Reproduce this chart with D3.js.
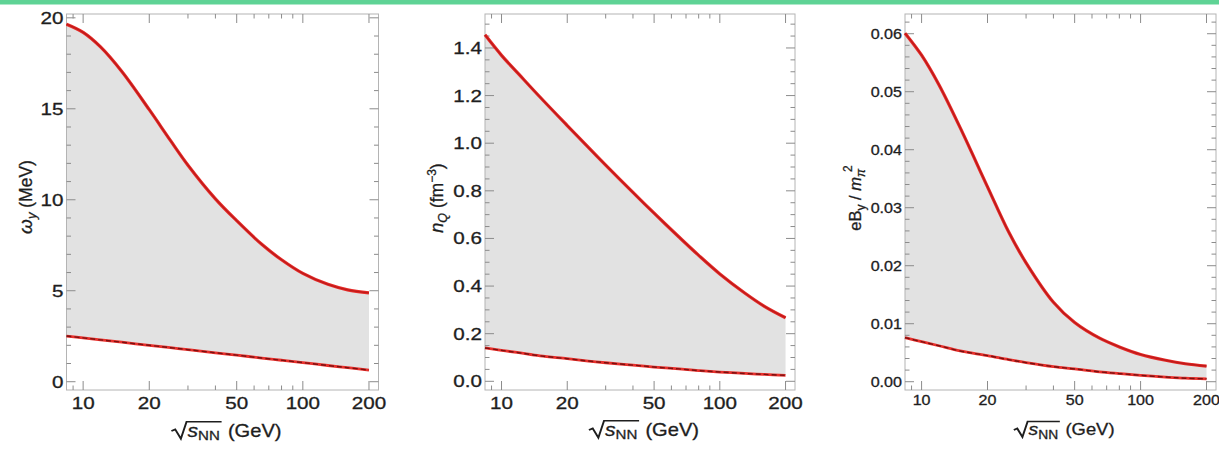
<!DOCTYPE html>
<html>
<head>
<meta charset="utf-8">
<script src="https://cdn.jsdelivr.net/npm/d3@7"></script>
<style>
  html, body { margin: 0; padding: 0; background: #fff; }
  svg { display: block; }
</style>
</head>
<body>
<svg id="chart" width="1219" height="449"></svg>
<script>
// Collision energy sqrt(s_NN) in GeV
const energies = [8.4, 10, 12, 15, 20, 25, 30, 40, 50, 65, 80, 100, 130, 160, 200];

// Vorticity omega_y (MeV): upper (solid) and lower (dashed) bounds
const omegaUpper = [19.65, 19.2, 18.4, 17.05, 14.95, 13.25, 11.9, 10.05, 8.85, 7.55, 6.7, 5.95, 5.35, 5.05, 4.88];
const omegaLower = [2.51, 2.41, 2.30, 2.17, 2.00, 1.87, 1.76, 1.59, 1.46, 1.30, 1.18, 1.05, 0.89, 0.77, 0.64];

// Charge density n_Q (fm^-3)
const nQUpper = [1.455, 1.369, 1.29, 1.194, 1.074, 0.982, 0.908, 0.793, 0.706, 0.606, 0.529, 0.451, 0.371, 0.315, 0.267];
const nQLower = [0.14, 0.13, 0.12, 0.107, 0.095, 0.085, 0.078, 0.068, 0.06, 0.052, 0.045, 0.039, 0.033, 0.029, 0.025];

// Magnetic field eB_y / m_pi^2
const eBUpper = [0.0601, 0.0563, 0.0512, 0.0438, 0.0336, 0.0258, 0.0205, 0.0137, 0.0102, 0.0075, 0.0060, 0.0047, 0.0037, 0.0031, 0.0027];
const eBLower = [0.0076, 0.0069, 0.0062, 0.0053, 0.0045, 0.0038, 0.0033, 0.0026, 0.0022, 0.0017, 0.0014, 0.0011, 0.0008, 0.0006, 0.0005];

// Axis ticks
const xMajorTicks = [10, 20, 50, 100, 200];
const xMinorTicks = [9, 30, 40, 60, 70, 80, 90];
const omegaTicks = [0, 5, 10, 15, 20];
const nQTicks = [0, 0.2, 0.4, 0.6, 0.8, 1.0, 1.2, 1.4];
const eBTicks = [0, 0.01, 0.02, 0.03, 0.04, 0.05, 0.06];

const svg = d3.select("#chart");
const FONT = "'Liberation Sans', Arial, Helvetica, sans-serif";
const TEXT = "#1e1e1e";

svg.append("rect").attr("x", 0).attr("y", 0).attr("width", 1219).attr("height", 4.5).attr("fill", "#5fd395");

const TOP = 14, BOTTOM = 390;
const xDomain = [8.4, 221];

const panels = [
  { left: 66.5, right: 378.5, yDomain: [-0.456, 20.21], upper: omegaUpper, lower: omegaLower,
    ticks: omegaTicks, minorStep: 1, fmt: d3.format("d"), labelSize: 16.5, sx: 1.25, xLabelBase: 409,
    titleBase: 436.5, titleSize: 17.5, yTitle: drawOmegaTitle },
  { left: 485, right: 795, yDomain: [-0.0365, 1.5426], upper: nQUpper, lower: nQLower,
    ticks: nQTicks, minorStep: 0.05, fmt: d3.format(".1f"), labelSize: 16.5, sx: 1.25, xLabelBase: 409,
    titleBase: 435.5, titleSize: 17.5, yTitle: drawNQTitle },
  { left: 905, right: 1216, yDomain: [-0.00143, 0.0634], upper: eBUpper, lower: eBLower,
    ticks: eBTicks, minorStep: 0.002, fmt: d3.format(".2f"), labelSize: 14, sx: 1.15, xLabelBase: 405,
    titleBase: 435, titleSize: 16, yTitle: drawEBTitle }
];

function hText(parent, x, y, size, sx, anchor, str) {
  return parent.append("text")
    .attr("transform", `translate(${x},${y}) scale(${sx},1)`)
    .attr("text-anchor", anchor)
    .attr("font-family", FONT)
    .attr("font-size", size)
    .attr("fill", TEXT)
    .attr("stroke", TEXT).attr("stroke-width", 0.3)
    .text(str);
}

panels.forEach(p => {
  const g = svg.append("g");
  const x = d3.scaleLog().domain(xDomain).range([p.left, p.right]);
  const y = d3.scaleLinear().domain(p.yDomain).range([BOTTOM, TOP]);
  const pts = energies.map((e, i) => ({ e, hi: p.upper[i], lo: p.lower[i] }));
  const curve = d3.curveCatmullRom.alpha(0.5);

  // shaded band between the bounds
  g.append("path")
    .datum(pts)
    .attr("fill", "#e2e2e2")
    .attr("d", d3.area().curve(curve)
      .x(d => x(d.e)).y0(d => y(d.lo)).y1(d => y(d.hi)));

  const lineHi = d3.line().curve(curve).x(d => x(d.e)).y(d => y(d.hi));
  const lineLo = d3.line().curve(curve).x(d => x(d.e)).y(d => y(d.lo));

  // frame
  g.append("rect")
    .attr("x", p.left).attr("y", TOP)
    .attr("width", p.right - p.left).attr("height", BOTTOM - TOP)
    .attr("fill", "none").attr("stroke", "#b4b4b4").attr("stroke-width", 1);

  // ticks on all four sides, pointing inwards
  const tickG = g.append("g").attr("stroke", "#8c8c8c").attr("stroke-width", 1);
  const MAJ = 9, MIN = 4.5;
  xMajorTicks.concat(xMinorTicks).forEach(v => {
    const len = xMajorTicks.includes(v) ? MAJ : MIN;
    const px = x(v);
    tickG.append("line").attr("x1", px).attr("x2", px).attr("y1", BOTTOM).attr("y2", BOTTOM - len);
    tickG.append("line").attr("x1", px).attr("x2", px).attr("y1", TOP).attr("y2", TOP + len);
  });
  const [y0, y1] = p.yDomain;
  const minors = d3.range(Math.ceil(y0 / p.minorStep) * p.minorStep, y1, p.minorStep);
  minors.forEach(v => {
    const isMajor = p.ticks.some(t => Math.abs(t - v) < p.minorStep / 10);
    const len = isMajor ? MAJ : MIN;
    const py = y(v);
    tickG.append("line").attr("x1", p.left).attr("x2", p.left + len).attr("y1", py).attr("y2", py);
    tickG.append("line").attr("x1", p.right).attr("x2", p.right - len).attr("y1", py).attr("y2", py);
  });

  // curves: solid upper bound, dashed lower bound
  g.append("path").datum(pts).attr("fill", "none").attr("stroke", "#e62b28")
    .attr("stroke-width", 3.2).attr("d", lineHi);
  g.append("path").datum(pts).attr("fill", "none").attr("stroke", "#bf1a1a")
    .attr("stroke-width", 1.4).attr("d", lineHi);
  g.append("path").datum(pts).attr("fill", "none").attr("stroke", "#e8302c")
    .attr("stroke-width", 2.8).attr("d", lineLo);
  g.append("path").datum(pts).attr("fill", "none").attr("stroke", "#7a1010")
    .attr("stroke-width", 1.4).attr("stroke-dasharray", "5,3").attr("d", lineLo);

  // tick labels
  p.ticks.forEach(v => {
    hText(g, p.left - 3, y(v) + p.labelSize * 0.36, p.labelSize, p.sx, "end", p.fmt(v));
  });
  xMajorTicks.forEach(v => {
    hText(g, x(v), p.xLabelBase, p.labelSize, p.sx, "middle", String(v));
  });

  drawEnergyTitle(g, (p.left + p.right) / 2, p.titleBase, p.titleSize);
  p.yTitle(g);
});

// sqrt(s_NN) (GeV) axis title
function drawEnergyTitle(parent, cx, base, size) {
  const grp = parent.append("g");
  const t = grp.append("text").attr("font-family", FONT).attr("font-size", size).attr("fill", TEXT)
    .attr("stroke", TEXT).attr("stroke-width", 0.3).attr("y", 0);
  t.append("tspan").attr("font-style", "italic").attr("font-size", size * 1.05).text("s");
  t.append("tspan").attr("font-size", size * 0.75).attr("dy", size * 0.22).text("NN");
  t.append("tspan").attr("dy", -size * 0.22).attr("dx", size * 0.4).text("(GeV)");
  const total = t.node().getComputedTextLength();
  const rootLen = t.node().getSubStringLength(0, 3);
  const rw = size * 0.8;
  const start = -(rw + total) / 2;
  t.attr("x", start + rw);
  const s = size / 16;
  grp.append("path")
    .attr("d", `M${start},${-5 * s} L${start + 3 * s},${-6.5 * s} L${start + 7.5 * s},${2 * s} L${start + 12 * s},${-13.5 * s} H${start + rw + rootLen + 1.5}`)
    .attr("fill", "none").attr("stroke", TEXT).attr("stroke-width", 1.7);
  grp.attr("transform", `translate(${cx},${base}) scale(1.15,1)`);
}

function yTitleText(parent, x, y, size) {
  return parent.append("text")
    .attr("transform", `translate(${x},${y}) rotate(-90)`)
    .attr("text-anchor", "middle")
    .attr("font-family", FONT)
    .attr("font-size", size)
    .attr("fill", TEXT)
    .attr("stroke", TEXT).attr("stroke-width", 0.3);
}

function drawOmegaTitle(parent) {
  const t = yTitleText(parent, 32, 197, 17.5);
  t.append("tspan").attr("font-style", "italic").attr("font-size", 19).text("ω");
  t.append("tspan").attr("font-style", "italic").attr("font-size", 13).attr("dy", 4).text("y");
  t.append("tspan").attr("dy", -4).text(" (MeV)");
}

function drawNQTitle(parent) {
  const t = yTitleText(parent, 443, 198, 17.5);
  t.append("tspan").attr("font-style", "italic").attr("font-size", 18).text("n");
  t.append("tspan").attr("font-style", "italic").attr("font-size", 12.5).attr("dy", 4).text("Q");
  t.append("tspan").attr("dy", -4).text(" (fm");
  t.append("tspan").attr("font-size", 12).attr("dy", -7).text("−3");
  t.append("tspan").attr("dy", 7).text(")");
}

function drawEBTitle(parent) {
  const t = yTitleText(parent, 861, 198, 16.5);
  t.append("tspan").text("eB");
  t.append("tspan").attr("font-size", 12).attr("dy", 4).text("y");
  t.append("tspan").attr("dy", -4).text(" / ");
  t.append("tspan").attr("font-style", "italic").text("m");
  t.append("tspan").attr("font-style", "italic").attr("font-size", 12).attr("dy", 4).text("π");
  t.append("tspan").attr("font-size", 12).attr("dy", -13).attr("dx", -3).text("2");
}
</script>
</body>
</html>
